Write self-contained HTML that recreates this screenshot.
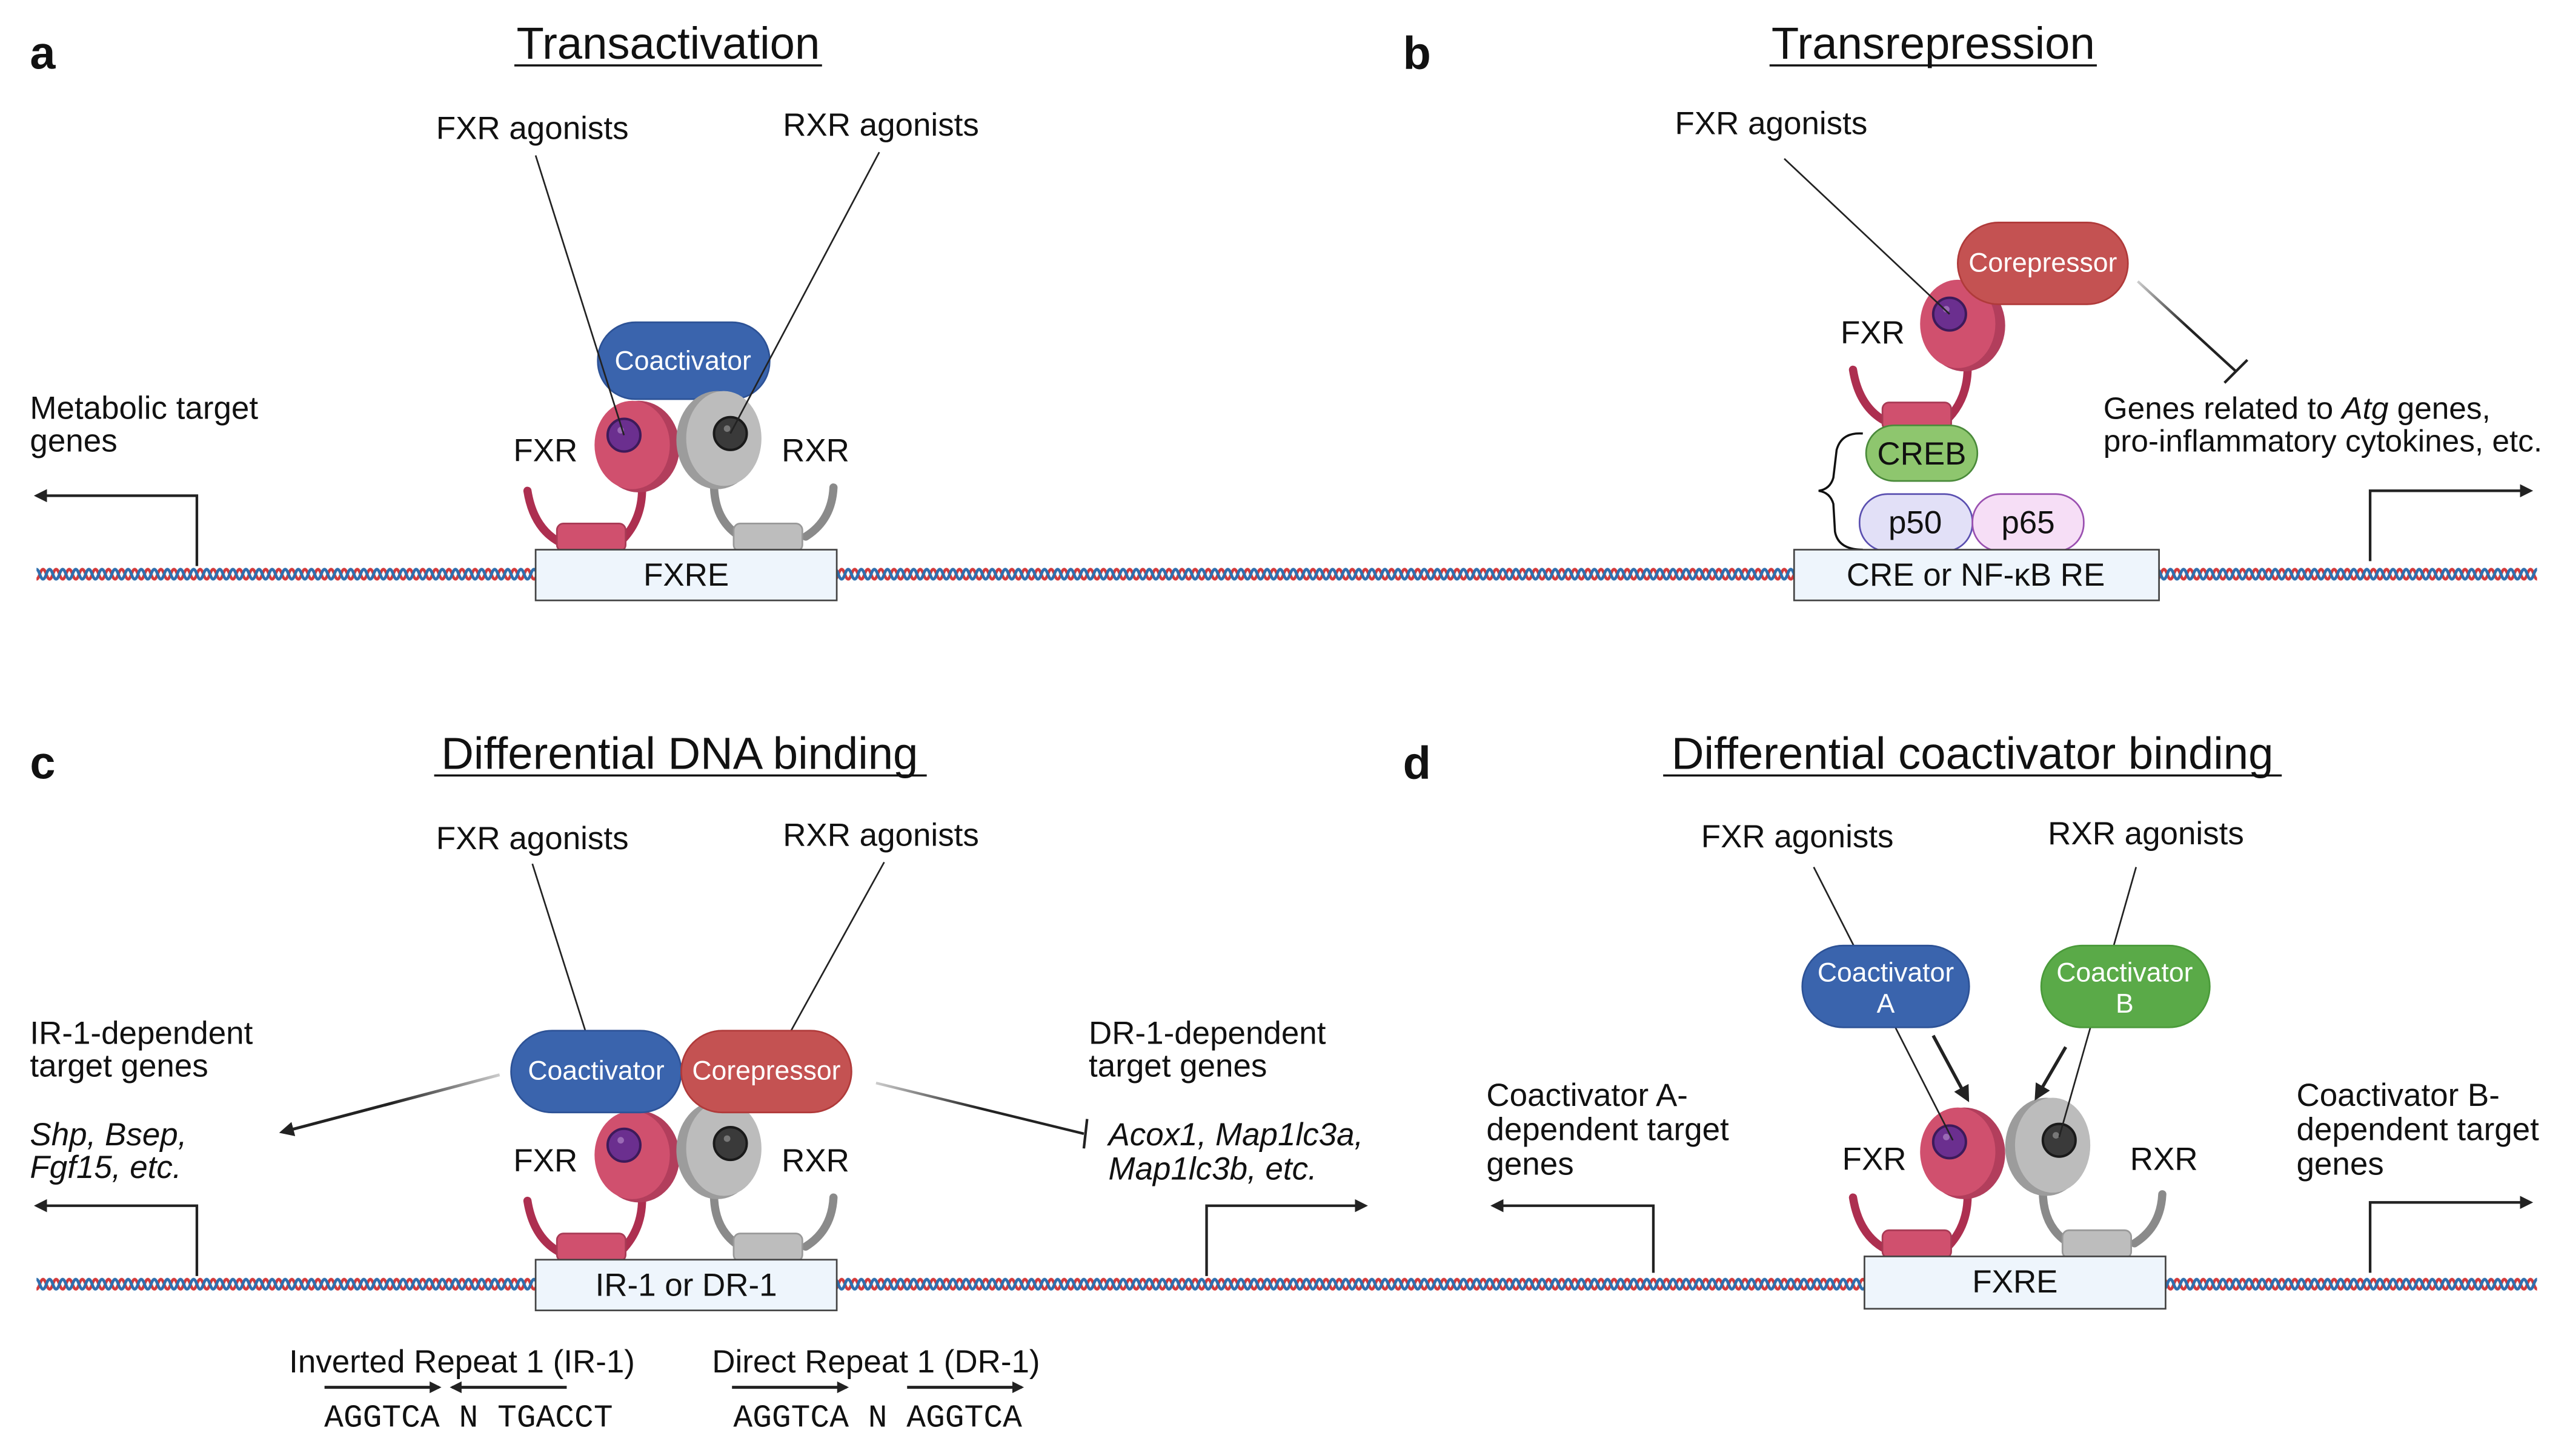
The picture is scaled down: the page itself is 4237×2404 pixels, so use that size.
<!DOCTYPE html>
<html><head><meta charset="utf-8"><style>
html,body{margin:0;padding:0;background:#fff}
svg{display:block}
text{font-family:"Liberation Sans",Arial,sans-serif;fill:#111}
</style></head><body>
<svg width="4237" height="2404" viewBox="0 0 1568 890" xmlns="http://www.w3.org/2000/svg">
<defs>
<pattern id="dna" x="0" y="345" width="8" height="12" patternUnits="userSpaceOnUse">
<path d="M-8,6 Q-6,0 -4,6 T0,6 T4,6 T8,6 T12,6" fill="none" stroke="#d43a3a" stroke-width="1.8"/>
<path d="M-8,6 Q-6,12 -4,6 T0,6 T4,6 T8,6 T12,6" fill="none" stroke="#2f6fae" stroke-width="1.8"/>
</pattern>
<pattern id="dna2" x="0" y="779" width="8" height="12" patternUnits="userSpaceOnUse">
<path d="M-8,6 Q-6,0 -4,6 T0,6 T4,6 T8,6 T12,6" fill="none" stroke="#d43a3a" stroke-width="1.8"/>
<path d="M-8,6 Q-6,12 -4,6 T0,6 T4,6 T8,6 T12,6" fill="none" stroke="#2f6fae" stroke-width="1.8"/>
</pattern>
<marker id="ah" viewBox="0 0 10 10" refX="8" refY="5" markerWidth="5" markerHeight="5" orient="auto-start-reverse">
<path d="M0,0 L10,5 L0,10 z" fill="#222"/></marker>
<marker id="ahs" viewBox="0 0 10 10" refX="8" refY="5" markerWidth="4" markerHeight="4" orient="auto-start-reverse">
<path d="M0,0 L10,5 L0,10 z" fill="#222"/></marker>
<linearGradient id="gL" x1="1" y1="0" x2="0" y2="0"><stop offset="0" stop-color="#ccc"/><stop offset="0.5" stop-color="#222"/></linearGradient>
<linearGradient id="gR" x1="0" y1="0" x2="1" y2="0"><stop offset="0" stop-color="#ccc"/><stop offset="0.5" stop-color="#222"/></linearGradient>
<g id="fxr">
<path d="M-66,28 Q-62,53 -43,61" fill="none" stroke="#ad2f50" stroke-width="5" stroke-linecap="round"/>
<path d="M4,24 Q5,46 -10,60" fill="none" stroke="#ad2f50" stroke-width="5" stroke-linecap="round"/>
<rect x="-48" y="48" width="42" height="17" rx="4" fill="#d0506e" stroke="#a83a55" stroke-width="1"/>
<ellipse cx="2" cy="1" rx="25" ry="28" fill="#b23e5c"/>
<ellipse cx="-2" cy="0" rx="23" ry="27" fill="#d0506e"/>
<circle cx="-7" cy="-6" r="10" fill="#6b2f8f" stroke="#3d1a5a" stroke-width="1.5"/>
<circle cx="-9" cy="-9" r="2" fill="#9a6ab5"/>
</g>
<g id="rxr">
<path d="M-4,28 Q-4,50 12,60" fill="none" stroke="#8a8a8a" stroke-width="5" stroke-linecap="round"/>
<path d="M69,30 Q68,50 52,60" fill="none" stroke="#8a8a8a" stroke-width="5" stroke-linecap="round"/>
<rect x="8" y="52" width="42" height="17" rx="4" fill="#bdbdbd" stroke="#999" stroke-width="1"/>
<ellipse cx="-2" cy="1" rx="25" ry="30" fill="#9c9c9c"/>
<ellipse cx="2" cy="0" rx="23" ry="29" fill="#bcbcbc"/>
<circle cx="6" cy="-3" r="10" fill="#3a3a3a" stroke="#1a1a1a" stroke-width="1.5"/>
<circle cx="4" cy="-6" r="2" fill="#777"/>
</g>
</defs>

<rect x="22" y="345" width="1528" height="12" fill="url(#dna)"/>
<rect x="22" y="779" width="1528" height="12" fill="url(#dna2)"/>

<!-- a -->
<text x="18" y="42" font-size="28" font-weight="bold">a</text>
<text x="408" y="36" font-size="27.5" text-anchor="middle">Transactivation</text>
<line x1="314" y1="40" x2="502" y2="40" stroke="#111" stroke-width="1.3"/>
<text x="325" y="85" font-size="19.6" text-anchor="middle">FXR agonists</text>
<text x="538" y="83" font-size="19.6" text-anchor="middle">RXR agonists</text>
<rect x="365" y="197" width="105" height="47" rx="23" fill="#3a64ad" stroke="#2d5296"/>
<text x="417" y="226" font-size="16.5" text-anchor="middle" style="fill:#fff">Coactivator</text>
<use href="#fxr" x="388" y="272"/>
<use href="#rxr" x="440" y="268"/>
<line x1="327" y1="95" x2="381" y2="266" stroke="#222" stroke-width="1"/>
<line x1="537" y1="93" x2="446" y2="265" stroke="#222" stroke-width="1"/>
<text x="333" y="282" font-size="19.6" text-anchor="middle">FXR</text>
<text x="498" y="282" font-size="19.6" text-anchor="middle">RXR</text>
<rect x="327" y="336" width="184" height="31" fill="#eef5fc" stroke="#444" stroke-width="1"/>
<text x="419" y="358" font-size="19.6" text-anchor="middle">FXRE</text>
<text x="18" y="256" font-size="19.6">Metabolic target</text>
<text x="18" y="276" font-size="19.6">genes</text>
<path d="M120,346 L120,303 L22,303" fill="none" stroke="#222" stroke-width="1.6" marker-end="url(#ah)"/>

<!-- b -->
<text x="857" y="42" font-size="28" font-weight="bold">b</text>
<text x="1181" y="36" font-size="27.5" text-anchor="middle">Transrepression</text>
<line x1="1081" y1="40" x2="1281" y2="40" stroke="#111" stroke-width="1.3"/>
<text x="1082" y="82" font-size="19.6" text-anchor="middle">FXR agonists</text>
<use href="#fxr" x="1198" y="198"/>
<line x1="1090" y1="97" x2="1191" y2="192" stroke="#222" stroke-width="1"/>
<rect x="1196" y="136" width="104" height="50" rx="25" fill="#c45252" stroke="#b03a3a"/>
<text x="1248" y="166" font-size="16.5" text-anchor="middle" style="fill:#fff">Corepressor</text>
<text x="1144" y="210" font-size="19.6" text-anchor="middle">FXR</text>
<rect x="1140" y="260" width="68" height="34" rx="17" fill="#8ec66e" stroke="#4a8a3a"/>
<text x="1174" y="284" font-size="19.6" text-anchor="middle">CREB</text>
<rect x="1136" y="302" width="69" height="35" rx="17" fill="#e2e0f7" stroke="#5a4fb0"/>
<text x="1170" y="326" font-size="19.6" text-anchor="middle">p50</text>
<rect x="1205" y="302" width="68" height="35" rx="17" fill="#f6def6" stroke="#9a50b0"/>
<text x="1239" y="326" font-size="19.6" text-anchor="middle">p65</text>
<path d="M1138,265 Q1125,264 1122,275 L1120,292 Q1118,299 1111,300 Q1118,301 1120,308 L1121,325 Q1123,336 1138,336" fill="none" stroke="#111" stroke-width="1.3"/>
<rect x="1096" y="336" width="223" height="31" fill="#eef5fc" stroke="#444" stroke-width="1"/>
<text x="1207" y="358" font-size="19.6" text-anchor="middle">CRE or NF-κB RE</text>
<line x1="1306" y1="172" x2="1366" y2="227" stroke="url(#gR)" stroke-width="1.6"/>
<line x1="1359" y1="234" x2="1373" y2="220" stroke="#222" stroke-width="1.6"/>
<text x="1285" y="256" font-size="19" >Genes related to <tspan font-style="italic">Atg</tspan> genes,</text>
<text x="1285" y="276" font-size="19">pro-inflammatory cytokines, etc.</text>
<path d="M1448,343 L1448,300 L1546,300" fill="none" stroke="#222" stroke-width="1.6" marker-end="url(#ah)"/>

<!-- c -->
<text x="18" y="476" font-size="28" font-weight="bold">c</text>
<text x="415" y="470" font-size="27.5" text-anchor="middle">Differential DNA binding</text>
<line x1="265" y1="474" x2="566" y2="474" stroke="#111" stroke-width="1.3"/>
<text x="325" y="519" font-size="19.6" text-anchor="middle">FXR agonists</text>
<text x="538" y="517" font-size="19.6" text-anchor="middle">RXR agonists</text>
<use href="#fxr" x="388" y="706"/>
<use href="#rxr" x="440" y="702"/>
<line x1="325" y1="528" x2="358" y2="632" stroke="#222" stroke-width="1"/>
<line x1="540" y1="527" x2="482" y2="632" stroke="#222" stroke-width="1"/>
<rect x="312" y="630" width="104" height="50" rx="25" fill="#3a64ad" stroke="#2d5296"/>
<text x="364" y="660" font-size="16.5" text-anchor="middle" style="fill:#fff">Coactivator</text>
<rect x="416" y="630" width="104" height="50" rx="25" fill="#c45252" stroke="#b03a3a"/>
<text x="468" y="660" font-size="16.5" text-anchor="middle" style="fill:#fff">Corepressor</text>
<text x="333" y="716" font-size="19.6" text-anchor="middle">FXR</text>
<text x="498" y="716" font-size="19.6" text-anchor="middle">RXR</text>
<rect x="327" y="770" width="184" height="31" fill="#eef5fc" stroke="#444" stroke-width="1"/>
<text x="419" y="792" font-size="19.6" text-anchor="middle">IR-1 or DR-1</text>
<text x="18" y="638" font-size="19.6">IR-1-dependent</text>
<text x="18" y="658" font-size="19.6">target genes</text>
<text x="18" y="700" font-size="19.6" font-style="italic">Shp, Bsep,</text>
<text x="18" y="720" font-size="19.6" font-style="italic">Fgf15, etc.</text>
<line x1="305" y1="657" x2="172" y2="692" stroke="url(#gL)" stroke-width="1.8" marker-end="url(#ah)"/>
<path d="M120,780 L120,737 L22,737" fill="none" stroke="#222" stroke-width="1.6" marker-end="url(#ah)"/>
<text x="665" y="638" font-size="19.6">DR-1-dependent</text>
<text x="665" y="658" font-size="19.6">target genes</text>
<text x="677" y="700" font-size="19.6" font-style="italic">Acox1, Map1lc3a,</text>
<text x="677" y="721" font-size="19.6" font-style="italic">Map1lc3b, etc.</text>
<line x1="535" y1="662" x2="662" y2="693" stroke="url(#gR)" stroke-width="1.6"/>
<line x1="664" y1="684" x2="662" y2="702" stroke="#222" stroke-width="1.6"/>
<path d="M737,780 L737,737 L834,737" fill="none" stroke="#222" stroke-width="1.6" marker-end="url(#ah)"/>
<text x="282" y="839" font-size="19.6" text-anchor="middle">Inverted Repeat 1 (IR-1)</text>
<line x1="198" y1="848" x2="268" y2="848" stroke="#222" stroke-width="1.8" marker-end="url(#ahs)"/>
<line x1="346" y1="848" x2="276" y2="848" stroke="#222" stroke-width="1.8" marker-end="url(#ahs)"/>
<text x="286" y="872" font-size="19.6" text-anchor="middle" style="font-family:'Liberation Mono',monospace">AGGTCA N TGACCT</text>
<text x="535" y="839" font-size="19.6" text-anchor="middle">Direct Repeat 1 (DR-1)</text>
<line x1="447" y1="848" x2="517" y2="848" stroke="#222" stroke-width="1.8" marker-end="url(#ahs)"/>
<line x1="554" y1="848" x2="624" y2="848" stroke="#222" stroke-width="1.8" marker-end="url(#ahs)"/>
<text x="536" y="872" font-size="19.6" text-anchor="middle" style="font-family:'Liberation Mono',monospace">AGGTCA N AGGTCA</text>

<!-- d -->
<text x="857" y="476" font-size="28" font-weight="bold">d</text>
<text x="1205" y="470" font-size="27.5" text-anchor="middle">Differential coactivator binding</text>
<line x1="1016" y1="474" x2="1394" y2="474" stroke="#111" stroke-width="1.3"/>
<text x="1098" y="518" font-size="19.6" text-anchor="middle">FXR agonists</text>
<text x="1311" y="516" font-size="19.6" text-anchor="middle">RXR agonists</text>
<use href="#fxr" x="1198" y="704"/>
<use href="#rxr" x="1252" y="700"/>
<line x1="1108" y1="530" x2="1193" y2="697" stroke="#222" stroke-width="1"/>
<line x1="1305" y1="530" x2="1258" y2="695" stroke="#222" stroke-width="1"/>
<rect x="1101" y="578" width="102" height="50" rx="25" fill="#3a64ad" stroke="#2d5296"/>
<text x="1152" y="600" font-size="16.5" text-anchor="middle" style="fill:#fff">Coactivator</text>
<text x="1152" y="619" font-size="16.5" text-anchor="middle" style="fill:#fff">A</text>
<rect x="1247" y="578" width="103" height="50" rx="25" fill="#5aaa48" stroke="#4a9a3a"/>
<text x="1298" y="600" font-size="16.5" text-anchor="middle" style="fill:#fff">Coactivator</text>
<text x="1298" y="619" font-size="16.5" text-anchor="middle" style="fill:#fff">B</text>
<line x1="1181" y1="633" x2="1202" y2="672" stroke="#222" stroke-width="2" marker-end="url(#ah)"/>
<line x1="1262" y1="640" x2="1244" y2="671" stroke="#222" stroke-width="2" marker-end="url(#ah)"/>
<text x="1145" y="715" font-size="19.6" text-anchor="middle">FXR</text>
<text x="1322" y="715" font-size="19.6" text-anchor="middle">RXR</text>
<rect x="1139" y="768" width="184" height="32" fill="#eef5fc" stroke="#444" stroke-width="1"/>
<text x="1231" y="790" font-size="19.6" text-anchor="middle">FXRE</text>
<text x="908" y="676" font-size="19.6">Coactivator A-</text>
<text x="908" y="697" font-size="19.6">dependent target</text>
<text x="908" y="718" font-size="19.6">genes</text>
<path d="M1010,778 L1010,737 L912,737" fill="none" stroke="#222" stroke-width="1.6" marker-end="url(#ah)"/>
<text x="1403" y="676" font-size="19.6">Coactivator B-</text>
<text x="1403" y="697" font-size="19.6">dependent target</text>
<text x="1403" y="718" font-size="19.6">genes</text>
<path d="M1448,778 L1448,735 L1546,735" fill="none" stroke="#222" stroke-width="1.6" marker-end="url(#ah)"/>
</svg>
</body></html>
